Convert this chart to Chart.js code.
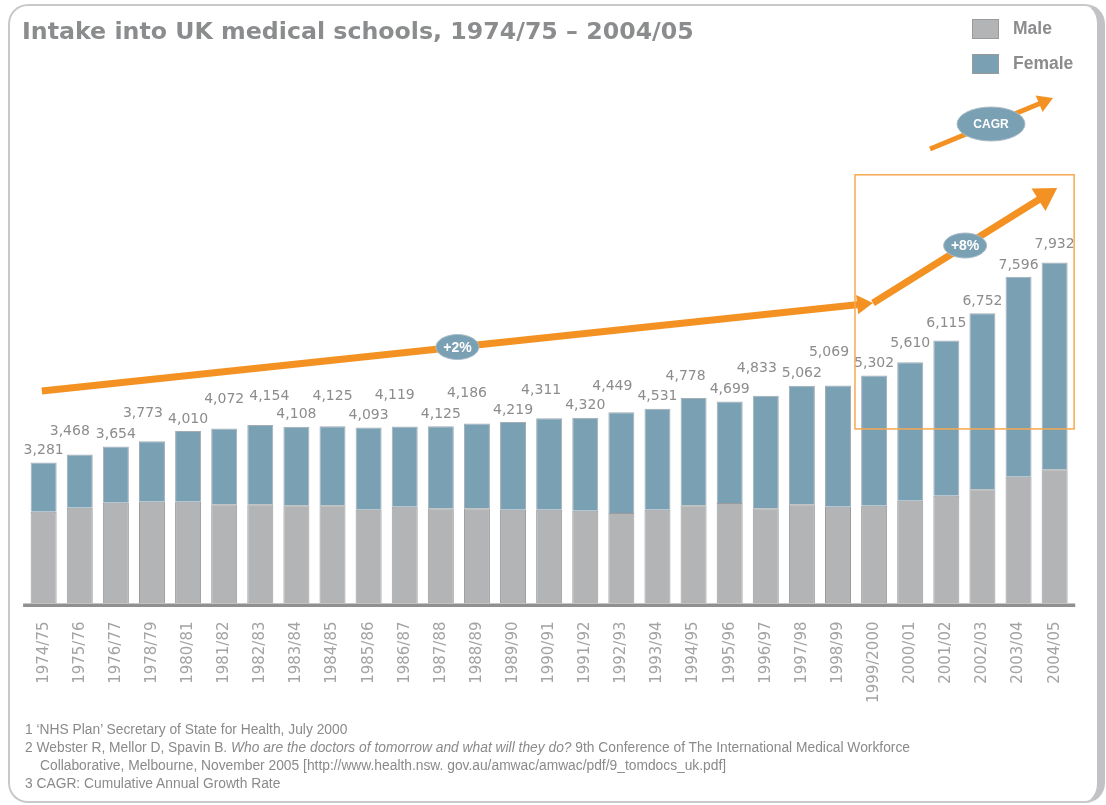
<!DOCTYPE html>
<html>
<head>
<meta charset="utf-8">
<script src="https://cdn.jsdelivr.net/npm/chart.js@4.4.1/dist/chart.umd.min.js"></script>
<style>
  html, body { margin: 0; padding: 0; background: #fff; }
  body { width: 1106px; height: 805px; position: relative; overflow: hidden; font-family: "Liberation Sans", Arial, sans-serif; }
  .frame { position: absolute; left: 8px; top: 4px; width: 1097px; height: 799px; box-sizing: border-box;
           border: 2.5px solid #c9c9cb; border-right: 8px solid #c2c2c6; border-radius: 20px; }
  #chart { position: absolute; left: 0; top: 0; }
  .title { position: absolute; left: 22px; top: 17px; font-family: "DejaVu Sans", sans-serif; font-weight: bold; font-size: 23.7px; color: #8b8c8e; white-space: nowrap; }
  .legend { position: absolute; left: 972px; top: 18px; }
  .legend-item { display: flex; align-items: center; height: 21px; margin-bottom: 14px; }
  .legend-box { width: 27px; height: 20px; box-sizing: border-box; border: 1px solid #9a9a9a; margin-right: 14px; }
  .legend-text { font-weight: bold; font-size: 17.5px; color: #8b8c8e; }
  .notes { position: absolute; left: 25px; top: 721px; font-size: 13.8px; line-height: 18px; color: #8a8a8a; white-space: nowrap; }
  .notes .indent { padding-left: 15px; }
</style>
</head>
<body>
<div class="frame"></div>
<canvas id="chart" width="1106" height="805"></canvas>
<div class="title">Intake into UK medical schools, 1974/75 – 2004/05</div>
<div class="legend" id="legend"></div>
<div class="notes">
  <div>1 ‘NHS Plan’ Secretary of State for Health, July 2000</div>
  <div>2 Webster R, Mellor D, Spavin B. <i>Who are the doctors of tomorrow and what will they do?</i> 9th Conference of The International Medical Workforce</div>
  <div class="indent">Collaborative, Melbourne, November 2005 [http://www.health.nsw. gov.au/amwac/amwac/pdf/9_tomdocs_uk.pdf]</div>
  <div>3 CAGR: Cumulative Annual Growth Rate</div>
</div>
<script>
// --- data ---
const years = ['1974/75', '1975/76', '1976/77', '1978/79', '1980/81', '1981/82', '1982/83', '1983/84', '1984/85', '1985/86',
  '1986/87', '1987/88', '1988/89', '1989/90', '1990/91', '1991/92', '1992/93', '1993/94', '1994/95', '1995/96',
  '1996/97', '1997/98', '1998/99', '1999/2000', '2000/01', '2001/02', '2002/03', '2003/04', '2004/05'];
const maleIntake = [2135, 2228, 2344, 2367, 2367, 2307, 2307, 2284, 2284, 2180, 2251, 2214, 2214, 2181, 2181,
  2158, 2105, 2181, 2284, 2335, 2214, 2307, 2251, 2274, 2391, 2507, 2656, 2949, 3121];
const femaleIntake = [1146, 1240, 1310, 1406, 1643, 1765, 1847, 1824, 1841, 1913, 1868, 1911, 1972, 2038, 2130,
  2162, 2344, 2350, 2494, 2364, 2619, 2755, 2818, 3028, 3219, 3608, 4096, 4647, 4811];
const yMax = 12000;

// growth arrows, in (category index, intake) coordinates
const trendArrows = [
  { from: [-0.05, 4940], to: [22.97, 6990], rate: '+2%', head: 16 },
  { from: [22.97, 6990], to: [28.07, 9660], rate: '+8%', head: 22 }
];
const focusBox = { x: [22.47, 28.54], y: [4060, 9970] };

// total labels that are moved to avoid overlapping: index -> [dx, extra lift]
const labelNudge = { 1: [-10, 11], 3: [-9, 16], 5: [0, 17], 6: [9, 17], 8: [0, 18], 10: [-10, 19], 12: [-10, 18],
  14: [-8, 16], 16: [-9, 14], 18: [-8, 10], 20: [-9, 15], 22: [-9, 21], 24: [0, 7], 25: [0, 5], 28: [0, 6] };

const ORANGE = '#f39223';
const BLUE = '#7aa0b4';
const GREY = '#b3b4b6';

function drawArrow(ctx, x0, y0, x1, y1, width, head) {
    const a = Math.atan2(y1 - y0, x1 - x0);
    const bx = x1 - Math.cos(a) * head, by = y1 - Math.sin(a) * head;
    ctx.strokeStyle = ORANGE;
    ctx.fillStyle = ORANGE;
    ctx.lineWidth = width;
    ctx.lineCap = 'butt';
    ctx.beginPath(); ctx.moveTo(x0, y0); ctx.lineTo(bx + Math.cos(a) * 2, by + Math.sin(a) * 2); ctx.stroke();
    const hw = head * 0.6;
    ctx.beginPath();
    ctx.moveTo(x1, y1);
    ctx.lineTo(bx + Math.sin(a) * hw, by - Math.cos(a) * hw);
    ctx.lineTo(bx - Math.sin(a) * hw, by + Math.cos(a) * hw);
    ctx.closePath(); ctx.fill();
}

function drawBadge(ctx, x, y, rx, ry, text, font) {
    ctx.fillStyle = BLUE;
    ctx.beginPath(); ctx.ellipse(x, y, rx, ry, 0, 0, Math.PI * 2); ctx.fill();
    ctx.strokeStyle = '#a9bcc7'; ctx.lineWidth = 1; ctx.stroke();
    ctx.fillStyle = '#fff';
    ctx.font = font;
    ctx.textAlign = 'center'; ctx.textBaseline = 'middle';
    ctx.fillText(text, x, y + 1);
}

const overlay = {
    id: 'overlay',
    afterDatasetsDraw(chart) {
        const { ctx, chartArea, scales: { x, y } } = chart;
        ctx.save();

        // base line
        ctx.strokeStyle = '#909090';
        ctx.lineWidth = 3.5;
        ctx.beginPath();
        ctx.moveTo(chartArea.left - 2.5, chartArea.bottom + 1.8);
        ctx.lineTo(chartArea.right + 2.5, chartArea.bottom + 1.8);
        ctx.stroke();

        // totals above bars
        const top = chart.getDatasetMeta(1).data;
        ctx.font = '14px "DejaVu Sans"';
        ctx.fillStyle = '#8c8c8c';
        ctx.textAlign = 'center'; ctx.textBaseline = 'middle';
        years.forEach((_, i) => {
            const total = maleIntake[i] + femaleIntake[i];
            const [dx, dy] = labelNudge[i] || [0, 0];
            ctx.fillText(total.toLocaleString('en-GB'), top[i].x + dx, top[i].y - 12 - dy);
        });

        // trend arrows + rates
        trendArrows.forEach(t => {
            drawArrow(ctx, x.getPixelForValue(t.from[0]), y.getPixelForValue(t.from[1]),
                x.getPixelForValue(t.to[0]), y.getPixelForValue(t.to[1]), 7, t.head);
        });
        trendArrows.forEach(t => {
            const mx = (x.getPixelForValue(t.from[0]) + x.getPixelForValue(t.to[0])) / 2;
            const my = (y.getPixelForValue(t.from[1]) + y.getPixelForValue(t.to[1])) / 2;
            drawBadge(ctx, mx, my, 21.5, 12.5, t.rate, 'bold 14px "Liberation Sans"');
        });

        // highlighted period
        ctx.strokeStyle = '#f6a952';
        ctx.lineWidth = 1.5;
        const bx0 = x.getPixelForValue(focusBox.x[0]), bx1 = x.getPixelForValue(focusBox.x[1]);
        const by0 = y.getPixelForValue(focusBox.y[1]), by1 = y.getPixelForValue(focusBox.y[0]);
        ctx.strokeRect(bx0, by0, bx1 - bx0, by1 - by0);

        // CAGR key, under the legend
        const kx = chart.width - 115, ky = 124;
        drawArrow(ctx, kx - 61, ky + 25, kx + 62, ky - 26, 5, 15);
        drawBadge(ctx, kx, ky, 34, 17, 'CAGR', 'bold 12px "Liberation Sans"');

        ctx.restore();
    }
};

const chart = new Chart(document.getElementById('chart'), {
    type: 'bar',
    data: {
        labels: years,
        datasets: [
            { label: 'Male', data: maleIntake, backgroundColor: GREY, borderColor: '#9b9b9d', borderWidth: 1 },
            { label: 'Female', data: femaleIntake, backgroundColor: BLUE, borderColor: '#a4adb3', borderWidth: 1 }
        ]
    },
    options: {
        responsive: false,
        devicePixelRatio: 1,
        animation: false,
        layout: { padding: { left: 25.6, right: 33.3, top: 87.5, bottom: 0 } },
        datasets: { bar: { barPercentage: 0.72, categoryPercentage: 1 } },
        plugins: { legend: { display: false }, tooltip: { enabled: false } },
        scales: {
            x: {
                stacked: true,
                grid: { display: false, drawTicks: false },
                border: { display: false },
                ticks: { maxRotation: 90, minRotation: 90, padding: 18, color: '#a3a3a3', font: { family: 'DejaVu Sans', size: 15 } },
                afterFit(s) { s.height = 805 - 603.5; }
            },
            y: { stacked: true, display: false, min: 0, max: yMax }
        }
    },
    plugins: [overlay]
});

// legend from the datasets
document.getElementById('legend').innerHTML = chart.data.datasets.map(d => `
    <div class="legend-item">
        <div class="legend-box" style="background:${d.backgroundColor}"></div>
        <span class="legend-text">${d.label}</span>
    </div>`).join('');
</script>
</body>
</html>
